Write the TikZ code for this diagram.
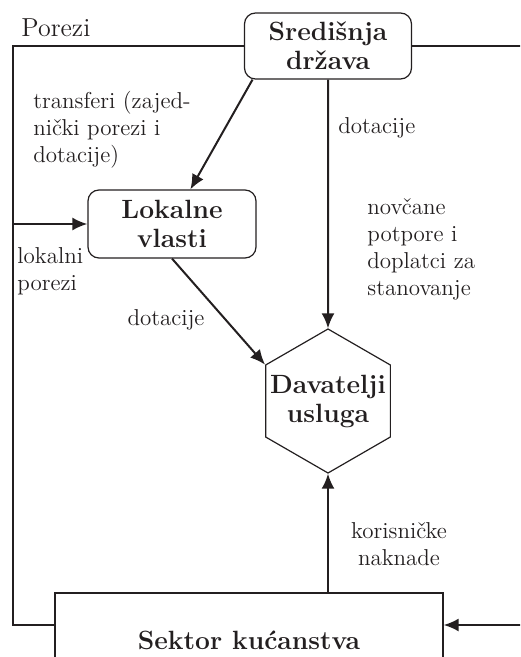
\documentclass[tikz,border=0pt]{standalone}
\usepackage{tikz}
\usetikzlibrary{arrows.meta,shapes.geometric,positioning}
\definecolor{Ink}{HTML}{231F20}

\begin{document}
\begin{tikzpicture}[x=0.5pt,y=-0.5pt,>={Latex[length=7.5pt,width=6.5pt]},
  font=\fontsize{11.5}{13.5}\selectfont,
  entity/.style={draw=Ink,text=Ink,line width=0.6pt,align=center,inner sep=0pt,
    font=\fontsize{13.2}{14.5}\selectfont\bfseries},
  flow/.style={draw=Ink,line width=1pt},
  note/.style={text=Ink,align=left,inner sep=0pt}]
  \useasboundingbox (0,0) rectangle (520,657);
  \clip (0,0) rectangle (520,657);
  % actors
  \node[entity,rounded corners=5.5pt,minimum width=83.5pt,minimum height=33pt] (sred) at (328,46) {Središnja\\država};
  \node[entity,rounded corners=5.5pt,minimum width=84pt,minimum height=34pt] (lok) at (172,224) {Lokalne\\vlasti};
  \node[entity,regular polygon,regular polygon sides=6,shape border rotate=30,inner sep=-10pt,minimum size=72pt] (dav) at (328,401) {Davatelji\\usluga};
  \node[entity,minimum width=194pt,minimum height=47pt] (sek) at (249,640) {Sektor kućanstva};
  \coordinate (lc) at (13,625);
  \coordinate (rc) at (532,625);
  % flows
  \draw[flow] (sred.west) -| (lc) -- (lc -| sek.west);
  \draw[flow,->] (sred.east) -| (rc) -- (rc -| sek.east);
  \draw[flow,->] (lc |- lok.west) -- (lok.west);
  \draw[flow,->] (sred.204) -- (lok.62);
  \draw[flow,->] (sred.south) -- (dav.north);
  \draw[flow,->] (lok.south) -- (dav.150);
  \draw[flow,->] (dav.south |- sek.north) -- (dav.south);
  % labels
  \node[note,anchor=west,font=\fontsize{13}{15}\selectfont] (porezi) at (21,28) {Porezi};
  \node[note,anchor=west] (transferi) at (33,130) {transferi (zajed-\\nički porezi i\\dotacije)};
  \node[note,anchor=west] (dotSred) at (338,128) {dotacije};
  \node[note,anchor=west] (potpore) at (367,249) {novčane\\potpore i\\doplatci za\\stanovanje};
  \node[note,anchor=west] (lokPorezi) at (17,271) {lokalni\\porezi};
  \node[note] (dotLok) at (166,320) {dotacije};
  \node[note,align=center] (naknade) at (399,544) {korisničke\\naknade};
\end{tikzpicture}
\end{document}
